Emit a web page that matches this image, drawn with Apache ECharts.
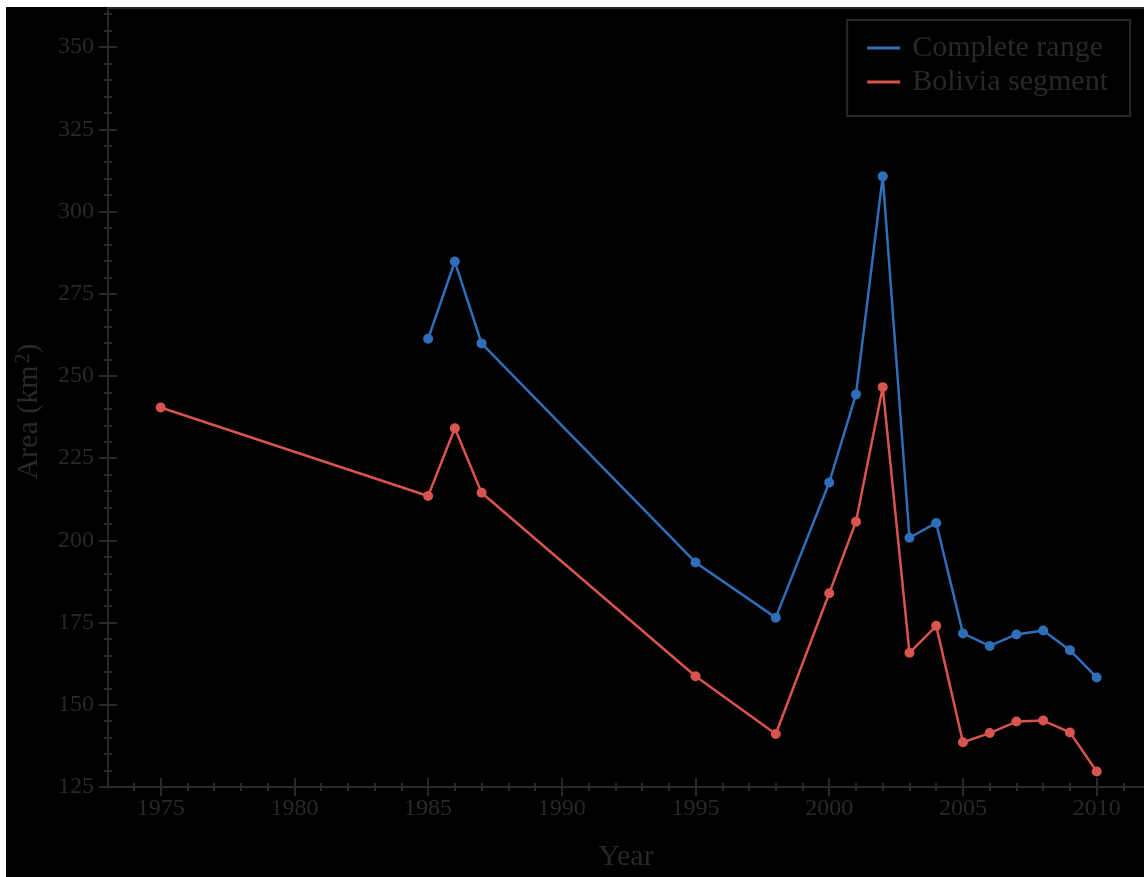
<!DOCTYPE html>
<html>
<head>
<meta charset="utf-8">
<script src="https://cdn.jsdelivr.net/npm/echarts@6/dist/echarts.min.js"></script>
<style>
html,body{margin:0;padding:0;background:#ffffff;width:1144px;height:877px;overflow:hidden;}
#chart{position:absolute;left:6px;top:7px;width:1138px;height:870px;background:#000000;}
</style>
</head>
<body>
<div id="chart"></div>
<script>
// ---- data ----
const completeYears = [1985, 1986, 1987, 1995, 1998, 2000, 2001, 2002, 2003, 2004, 2005, 2006, 2007, 2008, 2009, 2010];
const completeArea  = [261.3, 284.8, 259.9, 193.3, 176.5, 217.6, 244.4, 310.7, 200.8, 205.3, 171.7, 167.9, 171.4, 172.6, 166.6, 158.3];
const boliviaYears  = [1975, 1985, 1986, 1987, 1995, 1998, 2000, 2001, 2002, 2003, 2004, 2005, 2006, 2007, 2008, 2009, 2010];
const boliviaArea   = [240.4, 213.5, 234.1, 214.5, 158.7, 141.1, 183.9, 205.7, 246.6, 165.8, 174.0, 138.6, 141.4, 144.9, 145.2, 141.6, 129.7];
const xMajorTicks = [1975, 1980, 1985, 1990, 1995, 2000, 2005, 2010];
const xMinorTicks = [1974, 1976, 1977, 1978, 1979, 1981, 1982, 1983, 1984, 1986, 1987, 1988, 1989, 1991, 1992, 1993, 1994, 1996, 1997, 1998, 1999, 2001, 2002, 2003, 2004, 2006, 2007, 2008, 2009, 2011];
const yMajorTicks = [125, 150, 175, 200, 225, 250, 275, 300, 325, 350];
const yMinorTicks = [130, 135, 140, 145, 155, 160, 165, 170, 180, 185, 190, 195, 205, 210, 215, 220, 230, 235, 240, 245, 255, 260, 265, 270, 280, 285, 290, 295, 305, 310, 315, 320, 330, 335, 340, 345, 355, 360];
const seriesNames = ['Complete range', 'Bolivia segment'];

// ---- style ----
const AX = '#2b2828';
const TXT = '#2a2727';
const FONT = 'Liberation Serif';
const BLUE = '#2f6fb9';
const RED = '#d9534f';
const X_MIN = 1973.03, X_MAX = 2011.77, Y_MIN = 125, Y_MAX = 361.9;

function pairs(xs, ys) { return xs.map((x, i) => [x, ys[i]]); }

function xAx(extra) {
  return Object.assign({
    type: 'value', min: X_MIN, max: X_MAX, position: 'bottom', gridIndex: 0,
    splitLine: { show: false },
    axisLine: { show: false },
    axisLabel: { show: false },
    axisTick: { show: false }
  }, extra);
}
function yAx(extra) {
  return Object.assign({
    type: 'value', min: Y_MIN, max: Y_MAX, position: 'left', gridIndex: 0,
    splitLine: { show: false },
    axisLine: { show: false },
    axisLabel: { show: false },
    axisTick: { show: false }
  }, extra);
}

const chart = echarts.init(document.getElementById('chart'), null, { renderer: 'canvas' });
chart.setOption({
  backgroundColor: '#000000',
  animation: false,
  textStyle: { fontFamily: FONT },
  grid: { left: 102, top: 1, right: 0, bottom: 87, containLabel: false },
  legend: {
    orient: 'vertical',
    right: 14, top: 13,
    padding: [13, 22, 19, 20],
    itemGap: 4,
    itemWidth: 33, itemHeight: 3,
    borderColor: AX, borderWidth: 2,
    textStyle: { color: TXT, fontSize: 30, fontFamily: FONT, padding: [0, 0, 0, 7] },
    data: [
      { name: seriesNames[0], icon: 'rect' },
      { name: seriesNames[1], icon: 'rect' }
    ]
  },
  xAxis: [
    xAx({
      name: 'Year', nameLocation: 'middle', nameGap: 55,
      nameTextStyle: { color: TXT, fontSize: 30, fontFamily: FONT },
      axisLine: { show: true, onZero: false, lineStyle: { color: AX, width: 2 } },
      axisTick: { show: true, customValues: xMajorTicks, length: 9, lineStyle: { color: AX, width: 2 } },
      axisLabel: { show: true, customValues: xMajorTicks, margin: 10, color: TXT, fontSize: 24, fontFamily: FONT,
        formatter: function (v) { return String(Math.round(v)); } }
    }),
    xAx({ axisTick: { show: true, inside: true, customValues: xMajorTicks, length: 9, lineStyle: { color: AX, width: 2 } } }),
    xAx({ axisTick: { show: true, customValues: xMinorTicks, length: 4, lineStyle: { color: AX, width: 2 } } }),
    xAx({ axisTick: { show: true, inside: true, customValues: xMinorTicks, length: 4, lineStyle: { color: AX, width: 2 } } }),
    xAx({ position: 'top', axisLine: { show: true, onZero: false, lineStyle: { color: AX, width: 2 } } })
  ],
  yAxis: [
    yAx({
      name: 'Area (km{sup|2})', nameLocation: 'middle', nameGap: 64, nameRotate: 90,
      nameTextStyle: { color: TXT, fontSize: 30, fontFamily: FONT, padding: [0, 28, 0, 0],
        rich: { sup: { color: TXT, fontSize: 20, fontFamily: FONT, padding: [0, 0, 10, 2] } } },
      axisLine: { show: true, onZero: false, lineStyle: { color: AX, width: 2 } },
      axisTick: { show: true, customValues: yMajorTicks, length: 9, lineStyle: { color: AX, width: 2 } },
      axisLabel: { show: true, customValues: yMajorTicks, margin: 14, color: TXT, fontSize: 24, fontFamily: FONT }
    }),
    yAx({ axisTick: { show: true, inside: true, customValues: yMajorTicks, length: 9, lineStyle: { color: AX, width: 2 } } }),
    yAx({ axisTick: { show: true, customValues: yMinorTicks, length: 4, lineStyle: { color: AX, width: 2 } } }),
    yAx({ axisTick: { show: true, inside: true, customValues: yMinorTicks, length: 4, lineStyle: { color: AX, width: 2 } } })
  ],
  series: [
    {
      name: seriesNames[0], type: 'line', xAxisIndex: 0, yAxisIndex: 0,
      data: pairs(completeYears, completeArea),
      symbol: 'circle', symbolSize: 10, color: BLUE,
      lineStyle: { color: BLUE, width: 2.5 },
      itemStyle: { color: BLUE }
    },
    {
      name: seriesNames[1], type: 'line', xAxisIndex: 0, yAxisIndex: 0,
      data: pairs(boliviaYears, boliviaArea),
      symbol: 'circle', symbolSize: 10, color: RED,
      lineStyle: { color: RED, width: 2.5 },
      itemStyle: { color: RED }
    }
  ]
});
</script>
</body>
</html>
